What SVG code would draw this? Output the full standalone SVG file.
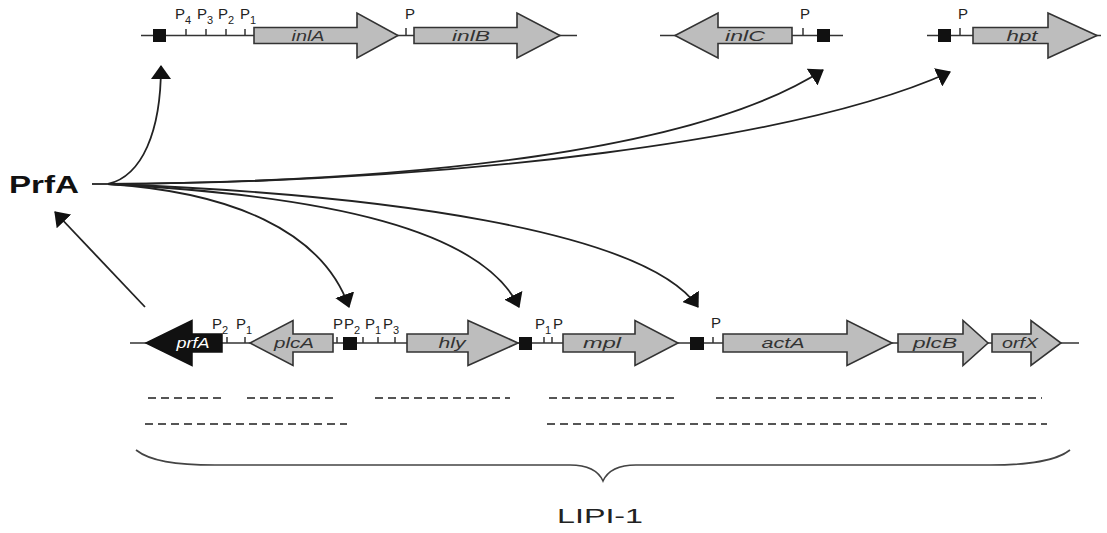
<svg xmlns="http://www.w3.org/2000/svg" width="1107" height="533" viewBox="0 0 1107 533">
<style>
.bb{stroke:#333;stroke-width:1.6;fill:none}
.gene{fill:#bdbdbd;stroke:#333;stroke-width:1.6;stroke-linejoin:miter}
.gblk{fill:#111;stroke:#111;stroke-width:1.5}
.box{fill:#111}
.tick{stroke:#333;stroke-width:1.5}
.gl{font-family:"Liberation Sans",Arial,sans-serif;font-style:italic;font-size:15px;fill:#333;text-anchor:middle}
.pl{font-family:"Liberation Sans",Arial,sans-serif;font-size:15px;fill:#222}
.sub{font-size:11px}
.con{fill:none;stroke:#222;stroke-width:1.8}
.dash{stroke:#555;stroke-width:2;stroke-dasharray:8 5}
</style>
<defs>
<marker id="ah" viewBox="0 0 14 20" refX="13" refY="10" markerWidth="14" markerHeight="20" markerUnits="userSpaceOnUse" orient="auto">
<path d="M0,0 L14,10 L0,20 z" fill="#111"/>
</marker>
</defs>
<rect width="1107" height="533" fill="#fff"/>

<g id="prfa-label">
<text x="9" y="193" font-family="'Liberation Sans',Arial,sans-serif" font-weight="bold" font-size="24" fill="#111" textLength="70" lengthAdjust="spacingAndGlyphs">PrfA</text>
</g>

<g id="locus-inlAB">
<line class="bb" x1="141" y1="35.5" x2="577" y2="35.5"/>
<rect class="box" x="153" y="29" width="13" height="13"/>
<line class="tick" x1="186" y1="29" x2="186" y2="35.5"/>
<line class="tick" x1="206" y1="29" x2="206" y2="35.5"/>
<line class="tick" x1="226" y1="29" x2="226" y2="35.5"/>
<line class="tick" x1="245" y1="29" x2="245" y2="35.5"/>
<text class="pl" x="175" y="19">P<tspan class="sub" dy="5">4</tspan></text>
<text class="pl" x="197" y="19">P<tspan class="sub" dy="5">3</tspan></text>
<text class="pl" x="218" y="19">P<tspan class="sub" dy="5">2</tspan></text>
<text class="pl" x="240" y="19">P<tspan class="sub" dy="5">1</tspan></text>
<path class="gene" d="M254,27.5 H357 V13 L398,35.5 L357,58 V43.5 H254 Z"/>
<text class="gl" x="308" y="41" textLength="33" lengthAdjust="spacingAndGlyphs">inlA</text>
<line class="tick" x1="406" y1="28" x2="406" y2="35.5"/>
<text class="pl" x="410" y="19" text-anchor="middle">P</text>
<path class="gene" d="M414,27.5 H517 V13 L560,35.5 L517,58 V43.5 H414 Z"/>
<text class="gl" x="471" y="41" textLength="38" lengthAdjust="spacingAndGlyphs">inlB</text>
</g>

<g id="locus-inlC">
<line class="bb" x1="660" y1="35.5" x2="843" y2="35.5"/>
<path class="gene" d="M792,27.5 H718 V13 L675,35.5 L718,58 V43.5 H792 Z"/>
<text class="gl" x="745" y="41" textLength="40" lengthAdjust="spacingAndGlyphs">inlC</text>
<line class="tick" x1="803" y1="28" x2="803" y2="35.5"/>
<text class="pl" x="805" y="19" text-anchor="middle">P</text>
<rect class="box" x="817" y="29" width="13" height="13"/>
</g>

<g id="locus-hpt">
<line class="bb" x1="927" y1="35.5" x2="1101" y2="35.5"/>
<rect class="box" x="938" y="29" width="13" height="13"/>
<line class="tick" x1="960" y1="28" x2="960" y2="35.5"/>
<text class="pl" x="963" y="19" text-anchor="middle">P</text>
<path class="gene" d="M973,27.5 H1048 V13 L1097,35.5 L1048,58 V43.5 H973 Z"/>
<text class="gl" x="1022" y="41" textLength="31" lengthAdjust="spacingAndGlyphs">hpt</text>
</g>

<g id="lipi1">
<line class="bb" x1="130" y1="343" x2="1079" y2="343"/>
<path class="gblk" d="M222,334 H192 V320.5 L146,343 L192,365.5 V352 H222 Z"/>
<text class="gl" x="193" y="348" style="fill:#fff" textLength="33" lengthAdjust="spacingAndGlyphs">prfA</text>
<line class="tick" x1="227" y1="337" x2="227" y2="343"/>
<line class="tick" x1="245" y1="337" x2="245" y2="343"/>
<text class="pl" x="212" y="329">P<tspan class="sub" dy="5">2</tspan></text>
<text class="pl" x="236" y="329">P<tspan class="sub" dy="5">1</tspan></text>
<path class="gene" d="M333,334 H293 V320.5 L250,343 L293,365.5 V352 H333 Z"/>
<text class="gl" x="294" y="348" textLength="40" lengthAdjust="spacingAndGlyphs">plcA</text>
<line class="tick" x1="337" y1="337" x2="337" y2="343"/>
<rect class="box" x="343" y="337" width="14" height="13"/>
<line class="tick" x1="363" y1="337" x2="363" y2="343"/>
<line class="tick" x1="378" y1="337" x2="378" y2="343"/>
<line class="tick" x1="395" y1="337" x2="395" y2="343"/>
<text class="pl" x="333" y="329">P</text>
<text class="pl" x="344" y="329">P<tspan class="sub" dy="5">2</tspan></text>
<text class="pl" x="365" y="329">P<tspan class="sub" dy="5">1</tspan></text>
<text class="pl" x="383" y="329">P<tspan class="sub" dy="5">3</tspan></text>
<path class="gene" d="M407,334 H468 V320.5 L518,343 L468,365.5 V352 H407 Z"/>
<text class="gl" x="452" y="348" textLength="27" lengthAdjust="spacingAndGlyphs">hly</text>
<rect class="box" x="519" y="337" width="13" height="13"/>
<line class="tick" x1="544" y1="337" x2="544" y2="343"/>
<line class="tick" x1="552" y1="337" x2="552" y2="343"/>
<text class="pl" x="535" y="329">P<tspan class="sub" dy="5">1</tspan></text>
<text class="pl" x="553" y="329">P</text>
<path class="gene" d="M563,334 H635 V320.5 L678,343 L635,365.5 V352 H563 Z"/>
<text class="gl" x="602" y="348" textLength="38" lengthAdjust="spacingAndGlyphs">mpl</text>
<rect class="box" x="690" y="337" width="14" height="13"/>
<line class="tick" x1="713" y1="337" x2="713" y2="343"/>
<text class="pl" x="716" y="328" text-anchor="middle">P</text>
<path class="gene" d="M723,334 H847 V320.5 L892,343 L847,365.5 V352 H723 Z"/>
<text class="gl" x="783" y="348" textLength="43" lengthAdjust="spacingAndGlyphs">actA</text>
<path class="gene" d="M898,334 H963 V320.5 L988,343 L963,365.5 V352 H898 Z"/>
<text class="gl" x="935" y="348" textLength="44" lengthAdjust="spacingAndGlyphs">plcB</text>
<path class="gene" d="M992,334 H1031 V320.5 L1061,343 L1031,365.5 V352 H992 Z"/>
<text class="gl" x="1020" y="348" textLength="36" lengthAdjust="spacingAndGlyphs">orfX</text>
</g>

<g id="transcripts">
<line class="dash" x1="148" y1="398" x2="223" y2="398"/>
<line class="dash" x1="247" y1="398" x2="335" y2="398"/>
<line class="dash" x1="375" y1="398" x2="510" y2="398"/>
<line class="dash" x1="549" y1="398" x2="676" y2="398"/>
<line class="dash" x1="716" y1="398" x2="1042" y2="398"/>
<line class="dash" x1="145" y1="424" x2="347" y2="424"/>
<line class="dash" x1="547" y1="424" x2="1047" y2="424"/>
</g>

<g id="brace">
<path fill="none" stroke="#444" stroke-width="1.6" d="M136,450 C150,461 175,465 215,465 L570,465 C588,465 598,470 603,481 C608,470 618,465 636,465 L990,465 C1030,465 1056,461 1070,450"/>
<text x="600" y="523" text-anchor="middle" font-family="'Liberation Sans',Arial,sans-serif" font-size="21" fill="#222" textLength="86" lengthAdjust="spacingAndGlyphs">LIPI-1</text>
</g>

<g id="connectors">
<path class="con" d="M92,184 L110,184"/>
<path class="con" marker-end="url(#ah)" d="M108,184 C142,176 161,132 161,66"/>
<path class="con" marker-end="url(#ah)" d="M108,184 C420,182 700,150 823,70"/>
<path class="con" marker-end="url(#ah)" d="M108,184 C460,182 800,140 950,72"/>
<path class="con" marker-end="url(#ah)" d="M108,184 C230,192 322,230 349,307"/>
<path class="con" marker-end="url(#ah)" d="M108,184 C330,196 482,230 519,307"/>
<path class="con" marker-end="url(#ah)" d="M108,184 C380,194 645,230 698,307"/>
<path class="con" marker-end="url(#ah)" d="M145,307 L55,212"/>
</g>
</svg>
